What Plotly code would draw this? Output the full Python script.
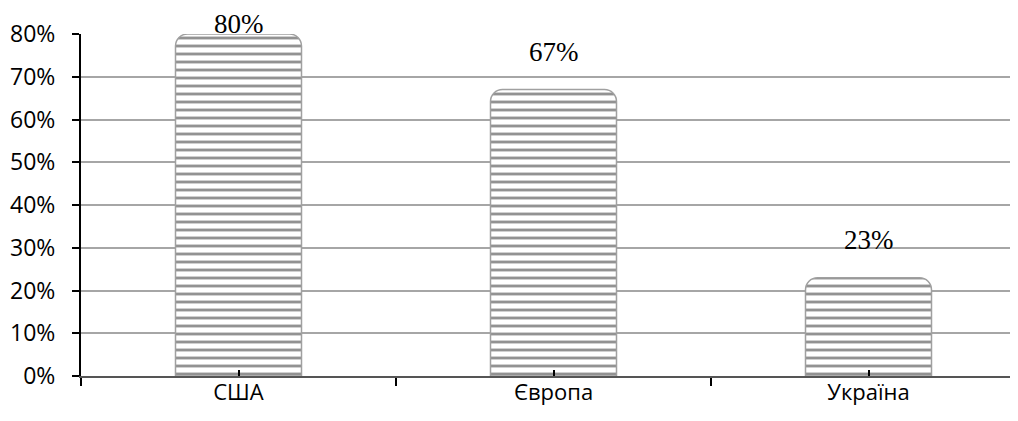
import plotly.graph_objects as go

categories = ["США", "Європа", "Україна"]
values = [0.80, 0.67, 0.23]
label_texts = ["80%", "67%", "23%"]
y_tickvals = [0, 0.1, 0.2, 0.3, 0.4, 0.5, 0.6, 0.7, 0.8]

W, H = 1018, 421
# page body has an 8px margin, compensate in the figure margins
M_L, M_R, M_T, M_B = 73, 0, 26, 53
Y_MAX = 0.8
cat_px = 315.0
plot_w = W - M_L - M_R
plot_h = H - M_T - M_B
x_range = [-0.5, -0.5 + plot_w / cat_px]

xs = list(range(len(categories)))

fig = go.Figure()
fig.add_trace(go.Bar(
    x=xs, y=values,
    width=0.4,
    marker=dict(
        color="white",
        line=dict(color="#a0a0a0", width=1.5),
        pattern=dict(shape="-", fgcolor="#262626", bgcolor="white",
                     size=8, solidity=0.36),
    ),
    hoverinfo="skip",
    xaxis="x", yaxis="y",
))

# data labels above bars, kept inside the page
px_per_unit = plot_h / Y_MAX
label_h = 32
for xi, v, t in zip(xs, values, label_texts):
    room = (Y_MAX - v) * px_per_unit + M_T
    ys = min(22, room - label_h)
    fig.add_annotation(x=xi, y=v, xref="x", yref="y", text=t, showarrow=False,
                       yanchor="bottom", yshift=ys, borderpad=0,
                       font=dict(family="Liberation Serif", size=27, color="black"))

fig.update_layout(
    width=W, height=H,
    margin=dict(l=M_L, r=M_R, t=M_T, b=M_B, autoexpand=False),
    paper_bgcolor="white", plot_bgcolor="white",
    showlegend=False,
    barcornerradius=12,
    font=dict(family="Open Sans", size=23, color="black"),
    xaxis=dict(
        range=x_range, automargin=False,
        tickmode="array", tickvals=xs, ticktext=categories,
        ticks="", showgrid=False, zeroline=False,
        showline=True, linecolor="#555555", linewidth=2,
        tickfont=dict(family="Open Sans", size=22, color="black"),
        ticklabelstandoff=-4,
        minor=dict(tickvals=[i - 0.5 for i in range(len(categories) + 1)],
                   ticks="outside", ticklen=8, tickwidth=2, tickcolor="black"),
    ),
    xaxis2=dict(
        range=x_range, overlaying="x", anchor="y", automargin=False,
        tickmode="array", tickvals=xs, showticklabels=False,
        ticks="inside", ticklen=6, tickwidth=2, tickcolor="black",
        showgrid=False, zeroline=False, showline=False,
    ),
    yaxis=dict(
        range=[0, Y_MAX], automargin=False,
        tickmode="array", tickvals=y_tickvals,
        tickformat=".0%",
        ticks="outside", ticklen=7, tickwidth=2, tickcolor="black",
        showline=True, linecolor="black", linewidth=2,
        showgrid=True, gridcolor="#a6a6a6", gridwidth=2,
        zeroline=False,
        tickfont=dict(family="Open Sans", size=23, color="black"),
        ticklabelstandoff=12,
    ),
)

# invisible trace to activate xaxis2
fig.add_trace(go.Scatter(x=xs, y=values, mode="markers", marker=dict(opacity=0),
                         hoverinfo="skip", xaxis="x2", yaxis="y"))

fig.write_html("out.html")
